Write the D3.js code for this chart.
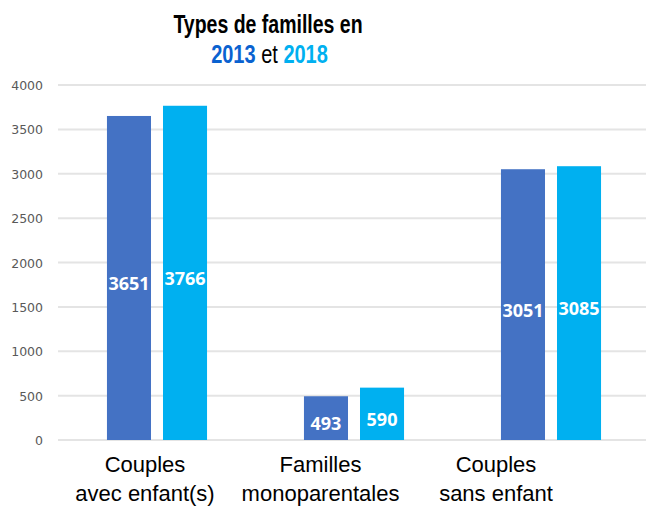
<html>
<head>
  <meta charset="utf-8">
  <script src="https://d3js.org/d3.v7.min.js"></script>
  <style>
    body { margin: 0; background: #fff; }
  </style>
</head>
<body>
<script>
var categories = ["Couples|avec enfant(s)", "Familles|monoparentales", "Couples|sans enfant"];
var years = ["2013", "2018"];
var values2013 = [3651, 493, 3051];
var values2018 = [3766, 590, 3085];
var yTicks = [0, 500, 1000, 1500, 2000, 2500, 3000, 3500, 4000];
var colors = {"2013": "#4472C4", "2018": "#00B0F0"};

var width = 646, height = 507;

var svg = d3.select("body").append("svg")
  .attr("width", width)
  .attr("height", height);

var x0 = d3.scaleBand().domain(categories).range([58.5, 649.5]);
var x1 = d3.scaleBand().domain(years)
  .range([x0.bandwidth() * 0.246, x0.bandwidth() * 0.754])
  .paddingInner(0.214);
var y = d3.scaleLinear().domain([0, 4000]).range([440, 85]);
// category labels sit a bit left of the bars in the original
var xLabel = d3.scalePoint().domain(categories).range([145, 496]);

// gridlines + tick labels
var grid = svg.append("g");
grid.selectAll("line")
  .data(yTicks)
  .enter().append("line")
  .attr("x1", 58).attr("x2", width)
  .attr("y1", function(d) { return y(d); })
  .attr("y2", function(d) { return y(d); })
  .attr("stroke", "#e4e4e4")
  .attr("stroke-width", 2);

grid.selectAll("text")
  .data(yTicks)
  .enter().append("text")
  .attr("x", 43)
  .attr("y", function(d) { return y(d) + 5; })
  .attr("text-anchor", "end")
  .attr("font-family", "DejaVu Sans, sans-serif")
  .attr("font-size", 12.5)
  .attr("fill", "#595959")
  .text(function(d) { return d; });

// bars
var rows = categories.map(function(c, i) {
  return {cat: c, vals: [{year: "2013", v: values2013[i]}, {year: "2018", v: values2018[i]}]};
});

var groups = svg.selectAll(".grp")
  .data(rows)
  .enter().append("g")
  .attr("class", "grp")
  .attr("transform", function(d) { return "translate(" + x0(d.cat) + ",0)"; });

groups.selectAll("rect")
  .data(function(d) { return d.vals; })
  .enter().append("rect")
  .attr("x", function(d) { return x1(d.year); })
  .attr("width", x1.bandwidth())
  .attr("y", function(d) { return y(d.v); })
  .attr("height", function(d) { return y(0) - y(d.v); })
  .attr("fill", function(d) { return colors[d.year]; });

groups.selectAll("text")
  .data(function(d) { return d.vals; })
  .enter().append("text")
  .attr("x", function(d) { return x1(d.year) + x1.bandwidth() / 2; })
  .attr("y", function(d) { return (y(d.v) + y(0)) / 2 + 12; })
  .attr("text-anchor", "middle")
  .attr("font-family", "Open Sans, sans-serif")
  .attr("font-weight", "bold")
  .attr("font-size", 18)
  .attr("fill", "#fff")
  .text(function(d) { return d.v; });

// category labels
var cl = svg.selectAll(".cat")
  .data(categories)
  .enter().append("text")
  .attr("class", "cat")
  .attr("text-anchor", "middle")
  .attr("font-family", "Liberation Sans, Arial, sans-serif")
  .attr("font-size", 22)
  .attr("fill", "#000");
cl.append("tspan")
  .attr("x", function(d) { return xLabel(d); })
  .attr("y", 472)
  .text(function(d) { return d.split("|")[0]; });
cl.append("tspan")
  .attr("x", function(d) { return xLabel(d); })
  .attr("y", 501)
  .text(function(d) { return d.split("|")[1]; });

// title (narrow look: squeeze horizontally)
svg.append("g")
  .attr("transform", "translate(268,33) scale(0.78,1)")
  .append("text")
  .attr("text-anchor", "middle")
  .attr("font-family", "Liberation Sans, Arial, sans-serif")
  .attr("font-weight", "bold")
  .attr("font-size", 25)
  .text("Types de familles en");

var t2 = svg.append("g")
  .attr("transform", "translate(269.5,63) scale(0.8,1)")
  .append("text")
  .attr("text-anchor", "middle")
  .attr("font-family", "Liberation Sans, Arial, sans-serif")
  .attr("font-size", 25);
t2.append("tspan").attr("font-weight", "bold").attr("fill", "#0A62D0").text(years[0]);
t2.append("tspan").attr("fill", "#000").text(" et ");
t2.append("tspan").attr("font-weight", "bold").attr("fill", "#00B0F0").text(years[1]);
</script>
</body>
</html>
